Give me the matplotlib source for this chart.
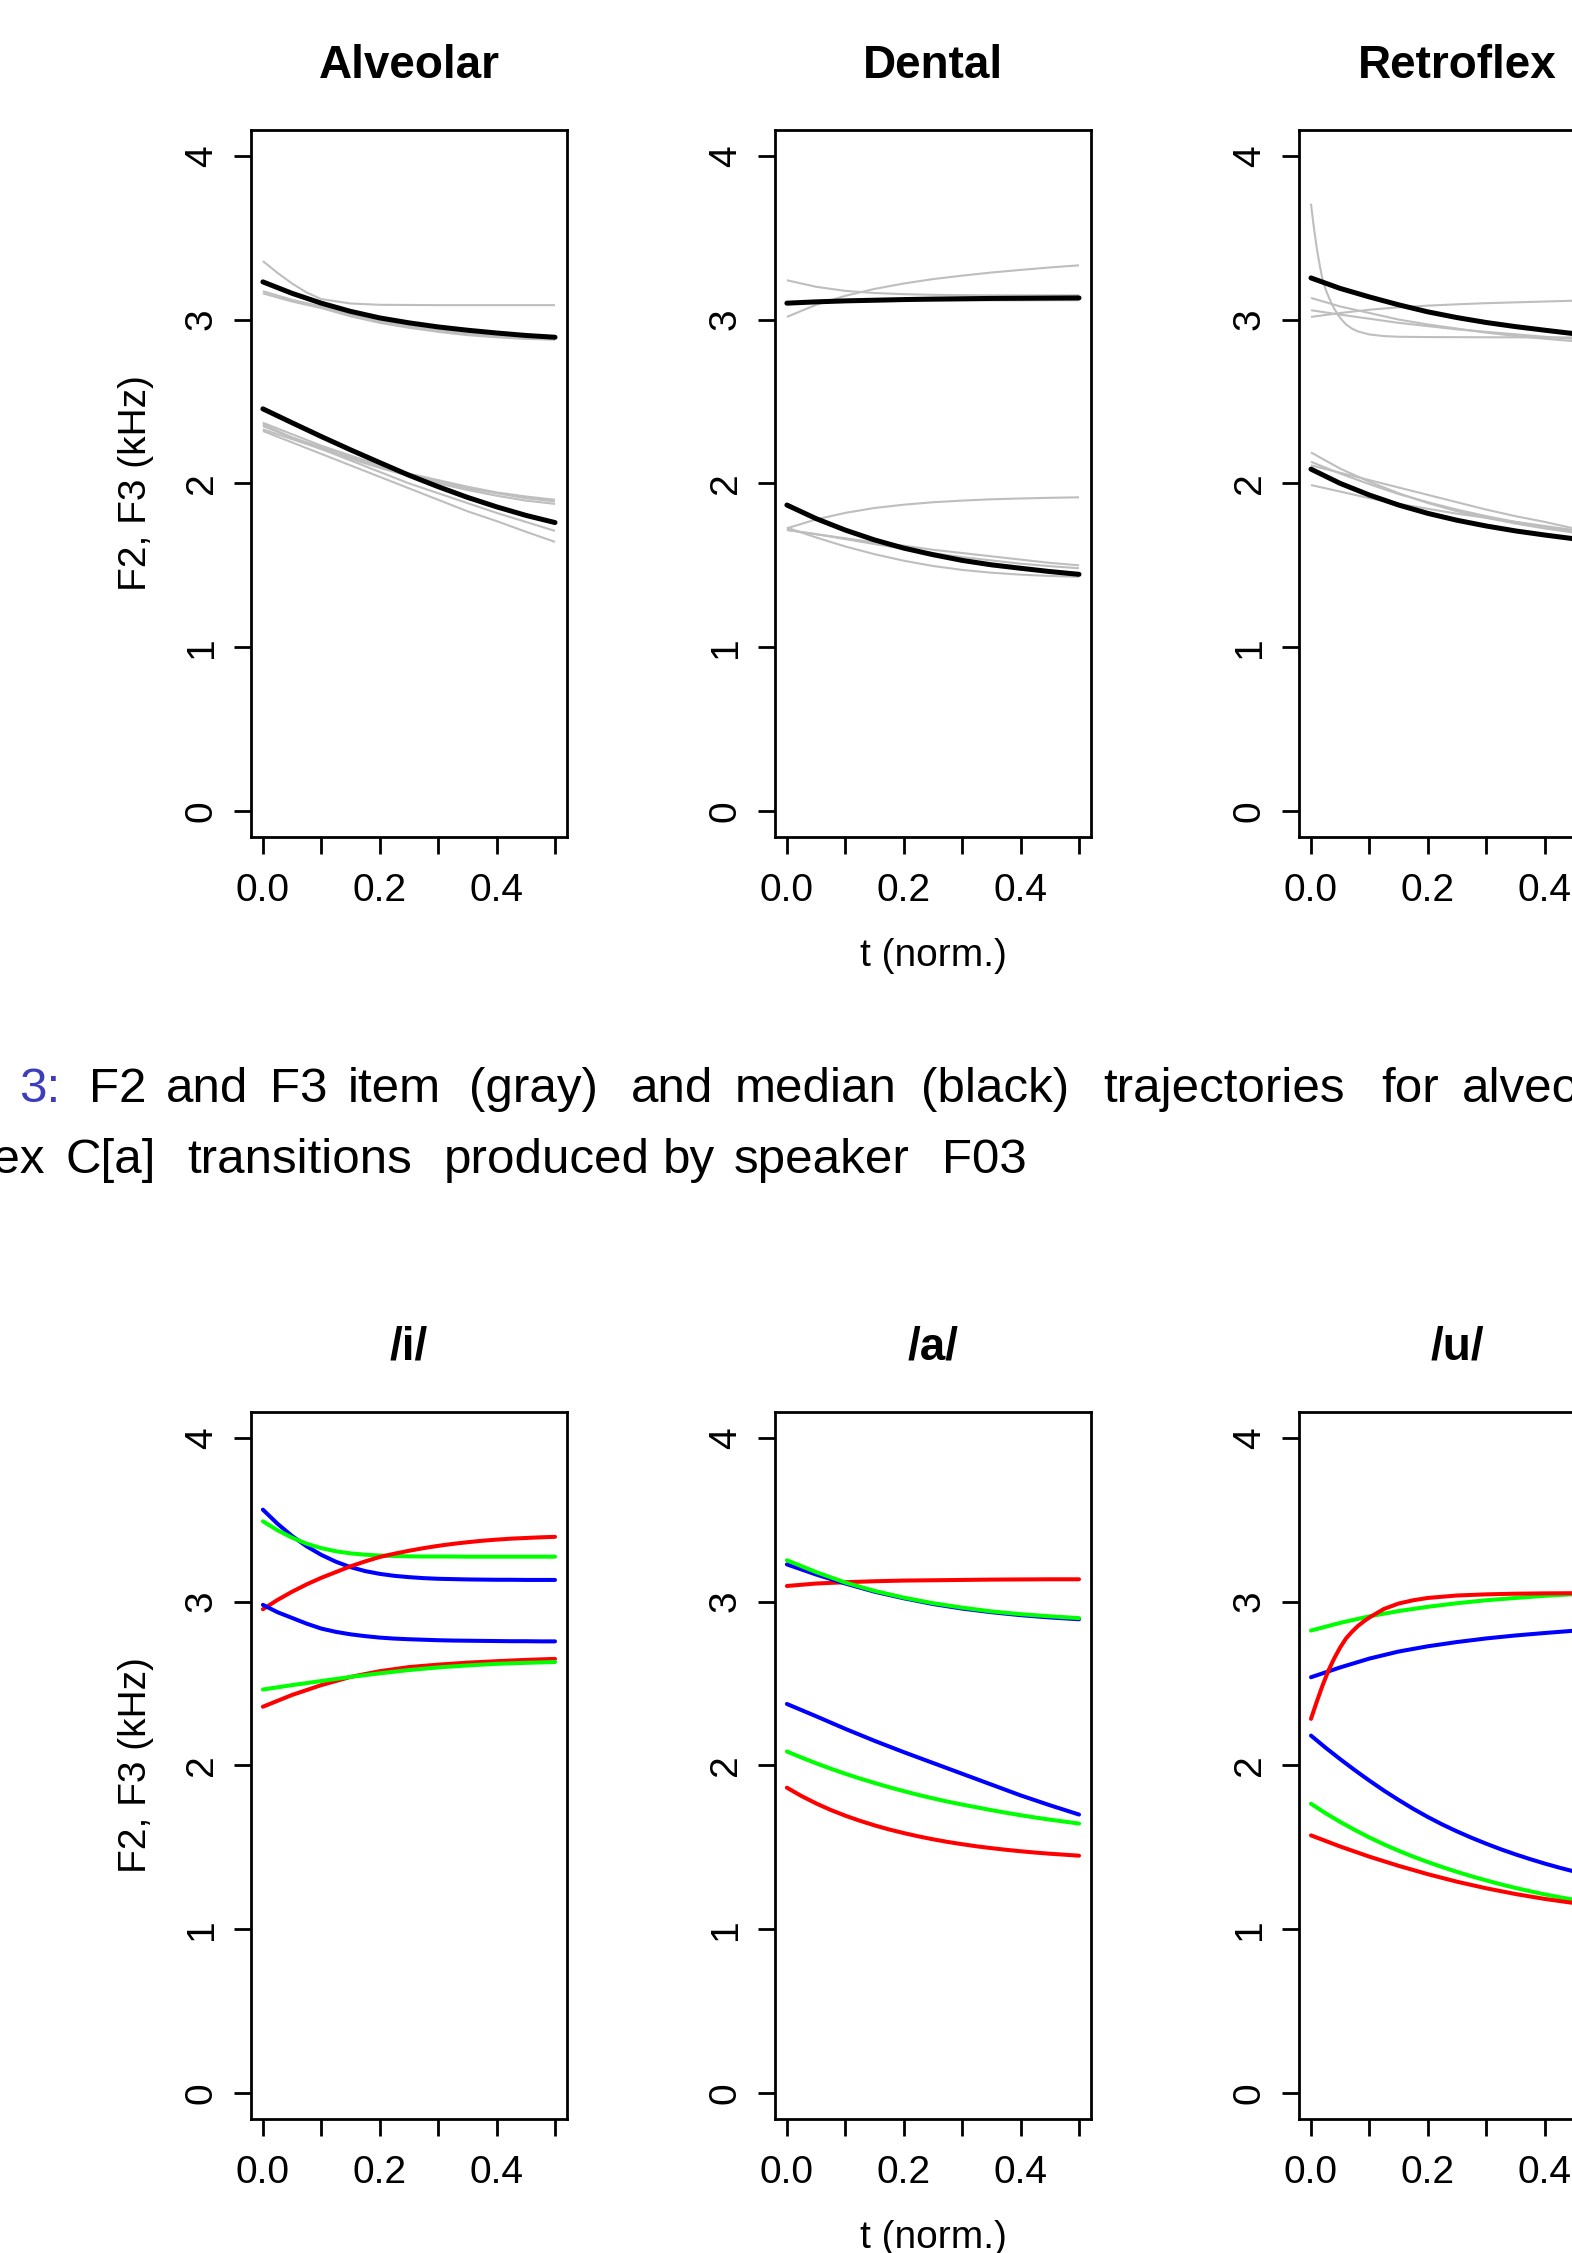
import matplotlib.pyplot as plt

# figure size in pixels (page crop), drawn at 100 dpi
W, H = 1572, 2253
DPI = 100

# time grids (normalised time)
T = [0.0, 0.05, 0.1, 0.15, 0.2, 0.25, 0.3, 0.35, 0.4, 0.45, 0.5]
T2 = [0.0, 0.025, 0.05, 0.075, 0.1, 0.125, 0.15, 0.175, 0.2, 0.225, 0.25,
      0.275, 0.3, 0.325, 0.35, 0.375, 0.4, 0.425, 0.45, 0.475, 0.5]
T_Q = [0.0, 0.025, 0.05, 0.075, 0.1, 0.15, 0.2, 0.3, 0.4, 0.5]
T_F = [0.0, 0.005, 0.01, 0.015, 0.02, 0.025, 0.03, 0.035, 0.04, 0.05, 0.06,
       0.07, 0.08, 0.1, 0.125, 0.15, 0.2, 0.3, 0.4, 0.5]
T_U = [0.0, 0.01, 0.02, 0.03, 0.04, 0.05, 0.06, 0.07, 0.08, 0.09, 0.1,
       0.125, 0.15, 0.175, 0.2, 0.25, 0.3, 0.35, 0.4, 0.45, 0.5]

# ---- top row: items (gray) and medians (black), kHz ----
places = ["Alveolar", "Dental", "Retroflex"]

alv_median = [
    [3.23, 3.16, 3.10, 3.05, 3.01, 2.98, 2.955, 2.935, 2.918, 2.903, 2.892],
    [2.455, 2.37, 2.286, 2.205, 2.127, 2.05, 1.98, 1.915, 1.857, 1.805, 1.761],
]
alv_items = [
    (T_Q, [3.357, 3.285, 3.22, 3.165, 3.125, 3.098, 3.09, 3.088, 3.088, 3.088]),
    (T, [3.173, 3.12, 3.08, 3.03, 2.99, 2.96, 2.935, 2.915, 2.90, 2.89, 2.885]),
    (T, [3.160, 3.11, 3.07, 3.02, 2.98, 2.95, 2.925, 2.905, 2.892, 2.882, 2.877]),
    (T, [2.37, 2.30, 2.23, 2.17, 2.11, 2.06, 2.02, 1.98, 1.945, 1.92, 1.90]),
    (T, [2.35, 2.28, 2.22, 2.16, 2.10, 2.05, 2.01, 1.97, 1.94, 1.91, 1.89]),
    (T, [2.33, 2.27, 2.21, 2.15, 2.095, 2.045, 2.00, 1.96, 1.925, 1.895, 1.875]),
    (T, [2.36, 2.28, 2.21, 2.14, 2.07, 2.00, 1.94, 1.88, 1.82, 1.765, 1.71]),
    (T, [2.32, 2.25, 2.18, 2.11, 2.04, 1.97, 1.90, 1.83, 1.77, 1.705, 1.643]),
]

den_median = [
    [3.10, 3.108, 3.114, 3.118, 3.122, 3.125, 3.127, 3.129, 3.13, 3.131, 3.132],
    [1.868, 1.785, 1.715, 1.655, 1.605, 1.565, 1.53, 1.503, 1.482, 1.462, 1.445],
]
den_items = [
    (T, [3.24, 3.20, 3.175, 3.162, 3.155, 3.151, 3.149, 3.148, 3.148, 3.148, 3.148]),
    (T, [3.016, 3.09, 3.145, 3.187, 3.22, 3.247, 3.268, 3.287, 3.303, 3.318, 3.331]),
    (T, [3.105, 3.108, 3.11, 3.112, 3.114, 3.115, 3.116, 3.117, 3.117, 3.118, 3.118]),
    (T, [1.726, 1.78, 1.82, 1.85, 1.87, 1.885, 1.895, 1.903, 1.908, 1.912, 1.915]),
    (T, [1.716, 1.69, 1.665, 1.64, 1.62, 1.595, 1.575, 1.555, 1.535, 1.515, 1.50]),
    (T, [1.73, 1.67, 1.615, 1.568, 1.528, 1.496, 1.472, 1.455, 1.443, 1.435, 1.43]),
    (T, [1.716, 1.69, 1.66, 1.63, 1.60, 1.575, 1.55, 1.53, 1.51, 1.495, 1.482]),
]

ret_median = [
    [3.254, 3.19, 3.138, 3.09, 3.047, 3.012, 2.982, 2.957, 2.935, 2.914, 2.90],
    [2.087, 2.0, 1.929, 1.868, 1.817, 1.775, 1.74, 1.71, 1.685, 1.662, 1.645],
]
ret_items = [
    (T_F, [3.707, 3.56, 3.433, 3.33, 3.24, 3.185, 3.14, 3.10, 3.065, 3.01, 2.97,
           2.945, 2.928, 2.909, 2.899, 2.895, 2.893, 2.892, 2.891, 2.89]),
    (T, [3.132, 3.08, 3.04, 3.00, 2.97, 2.945, 2.92, 2.90, 2.883, 2.868, 2.855]),
    (T, [3.016, 3.04, 3.06, 3.075, 3.085, 3.093, 3.10, 3.105, 3.11, 3.115, 3.118]),
    (T, [3.057, 3.03, 3.005, 2.98, 2.96, 2.94, 2.925, 2.91, 2.895, 2.882, 2.872]),
    (T, [2.189, 2.09, 2.01, 1.94, 1.88, 1.83, 1.79, 1.755, 1.725, 1.70, 1.68]),
    (T, [2.11, 2.065, 2.02, 1.975, 1.93, 1.885, 1.84, 1.80, 1.765, 1.725, 1.69]),
    (T, [2.132, 2.06, 1.995, 1.935, 1.885, 1.84, 1.80, 1.765, 1.735, 1.71, 1.69]),
    (T, [1.99, 1.95, 1.91, 1.875, 1.845, 1.815, 1.79, 1.765, 1.74, 1.715, 1.695]),
]

# ---- bottom row: medians per vowel, coloured by consonant place ----
vowels = ["/i/", "/a/", "/u/"]
GREEN = "#00ff00"

i_curves = [
    ("blue", T2, [3.561, 3.475, 3.40, 3.337, 3.285, 3.243, 3.21, 3.186, 3.169, 3.157,
                  3.149, 3.143, 3.139, 3.137, 3.135, 3.134, 3.133, 3.133, 3.132, 3.132, 3.132]),
    (GREEN, T2, [3.49, 3.435, 3.39, 3.353, 3.326, 3.307, 3.294, 3.286, 3.281, 3.278,
                 3.276, 3.275, 3.275, 3.275, 3.274, 3.274, 3.274, 3.274, 3.274, 3.274, 3.274]),
    ("red", T2, [2.953, 3.01, 3.06, 3.105, 3.145, 3.18, 3.215, 3.245, 3.272, 3.292,
                 3.31, 3.326, 3.34, 3.352, 3.362, 3.371, 3.378, 3.384, 3.388, 3.392, 3.395]),
    ("blue", T2, [2.98, 2.935, 2.90, 2.865, 2.835, 2.815, 2.80, 2.789, 2.78, 2.774,
                  2.77, 2.767, 2.764, 2.762, 2.761, 2.76, 2.759, 2.758, 2.758, 2.757, 2.757]),
    ("red", T, [2.358, 2.43, 2.49, 2.54, 2.575, 2.60, 2.615, 2.627, 2.636, 2.644, 2.65]),
    (GREEN, T, [2.463, 2.49, 2.515, 2.54, 2.562, 2.582, 2.598, 2.61, 2.62, 2.626, 2.631]),
]
a_curves = [
    ("red", T, [3.095, 3.11, 3.118, 3.124, 3.128, 3.13, 3.132, 3.134, 3.135, 3.136, 3.136]),
    ("blue", T, [3.227, 3.165, 3.11, 3.06, 3.02, 2.985, 2.957, 2.935, 2.917, 2.903, 2.892]),
    (GREEN, T, [3.252, 3.18, 3.116, 3.065, 3.024, 2.99, 2.963, 2.94, 2.923, 2.91, 2.899]),
    ("blue", T, [2.375, 2.30, 2.223, 2.15, 2.081, 2.015, 1.949, 1.883, 1.817, 1.757, 1.70]),
    (GREEN, T2, [2.085, 2.048, 2.013, 1.98, 1.949, 1.92, 1.893, 1.867, 1.843, 1.82, 1.799,
                 1.779, 1.761, 1.744, 1.727, 1.711, 1.696, 1.682, 1.669, 1.657, 1.645]),
    ("red", T2, [1.864, 1.813, 1.768, 1.728, 1.693, 1.662, 1.634, 1.609, 1.587, 1.567, 1.549,
                 1.533, 1.519, 1.506, 1.495, 1.485, 1.476, 1.468, 1.461, 1.455, 1.449]),
]
u_curves = [
    ("blue", T, [2.538, 2.598, 2.652, 2.695, 2.727, 2.753, 2.775, 2.793, 2.808, 2.822, 2.833]),
    (GREEN, T, [2.823, 2.87, 2.91, 2.942, 2.968, 2.99, 3.008, 3.022, 3.035, 3.045, 3.052]),
    ("red", T_U, [2.284, 2.39, 2.49, 2.58, 2.655, 2.72, 2.775, 2.815, 2.85, 2.878, 2.903,
                  2.955, 2.988, 3.008, 3.022, 3.037, 3.044, 3.048, 3.05, 3.051, 3.052]),
    ("blue", T2, [2.182, 2.108, 2.038, 1.971, 1.907, 1.846, 1.789, 1.735, 1.685, 1.639, 1.597,
                  1.558, 1.522, 1.488, 1.457, 1.428, 1.401, 1.376, 1.353, 1.332, 1.312]),
    (GREEN, T2, [1.766, 1.708, 1.655, 1.606, 1.56, 1.518, 1.479, 1.443, 1.41, 1.379, 1.35,
                 1.323, 1.298, 1.274, 1.252, 1.232, 1.213, 1.196, 1.18, 1.165, 1.152]),
    ("red", T, [1.573, 1.505, 1.443, 1.387, 1.336, 1.29, 1.25, 1.215, 1.185, 1.16, 1.138]),
]

# caption words visible in the crop
cap_line1 = ["3:", "F2", "and", "F3", "item", "(gray)", "and", "median",
             "(black)", "trajectories", "for", "alveolar,"]
cap_line2 = ["retroflex", "C[a]", "transitions", "produced", "by", "speaker", "F03"]

# layout in pixels
COL_LEFT = [251.2, 775.2, 1299.3]
ROW_TOP = [129.5, 1411.5]
AX_W, AX_H = 315.5, 707.8
FONT = "Liberation Sans"

plt.rcParams["font.family"] = FONT

fig = plt.figure(figsize=(W / DPI, H / DPI), dpi=DPI)


def fx(px):
    return px / W


def fy(py):
    return 1 - py / H


def make_panel(col, row, title):
    left, top = COL_LEFT[col], ROW_TOP[row]
    ax = fig.add_axes([fx(left), fy(top + AX_H), AX_W / W, AX_H / H])
    ax.set_xlim(-0.02, 0.52)
    ax.set_ylim(-0.16, 4.16)
    ax.set_xticks([0, 0.1, 0.2, 0.3, 0.4, 0.5])
    ax.set_xticklabels(["0.0", "", "0.2", "", "0.4", ""])
    ax.set_yticks([0, 1, 2, 3, 4])
    ax.set_yticklabels(["0", "1", "2", "3", "4"])
    for s in ax.spines.values():
        s.set_linewidth(2.0)
    ax.tick_params(direction="out", length=12.2, width=2.0, labelsize=28)
    ax.tick_params(axis="x", pad=13.5)
    ax.tick_params(axis="y", pad=10.4, labelrotation=90)
    for lab in ax.get_yticklabels():
        lab.set_va("center")
    cx = left + AX_W / 2
    fig.text(fx(cx), fy(top - 51.7), title, ha="center", va="baseline",
             fontsize=33, fontweight="bold")
    if col == 0:
        fig.text(fx(145.5), fy(top + AX_H / 2), "F2, F3 (kHz)", rotation=90,
                 rotation_mode="anchor", ha="center", va="baseline", fontsize=28)
    if col == 1:
        fig.text(fx(cx), fy(top + 836.5), "t (norm.)", ha="center",
                 va="baseline", fontsize=28)
    return ax


# top row
top_sets = [(alv_items, alv_median), (den_items, den_median), (ret_items, ret_median)]
for col, (items, med) in enumerate(top_sets):
    ax = make_panel(col, 0, places[col])
    for tt, vals in items:
        ax.plot(tt, vals, color="#bebebe", lw=1.5, solid_capstyle="butt")
    for vals in med:
        ax.plot(T, vals, color="black", lw=3.6, solid_capstyle="round",
                solid_joinstyle="round")

# bottom row
for col, curves in enumerate([i_curves, a_curves, u_curves]):
    ax = make_panel(col, 1, vowels[col])
    for color, tt, vals in curves:
        ax.plot(tt, vals, color=color, lw=2.9, solid_capstyle="round",
                solid_joinstyle="round")

# caption
CAP_SIZE = 35.5
x1 = [19, 89, 166, 270, 348, 469, 631, 735, 921, 1103, 1381, 1462]
for word, x in zip(cap_line1, x1):
    fig.text(fx(x), fy(1102), word, ha="left", va="baseline", fontsize=CAP_SIZE,
             color="#3c3cbc" if word == "3:" else "black")
fig.text(fx(45), fy(1173), cap_line2[0], ha="right", va="baseline", fontsize=CAP_SIZE)
# word centres on the second line
x2 = [111, 300, 547, 689, 822, 984]
for word, x in zip(cap_line2[1:], x2):
    fig.text(fx(x), fy(1173), word, ha="center", va="baseline", fontsize=CAP_SIZE)

fig.savefig("out.png", dpi=DPI)
